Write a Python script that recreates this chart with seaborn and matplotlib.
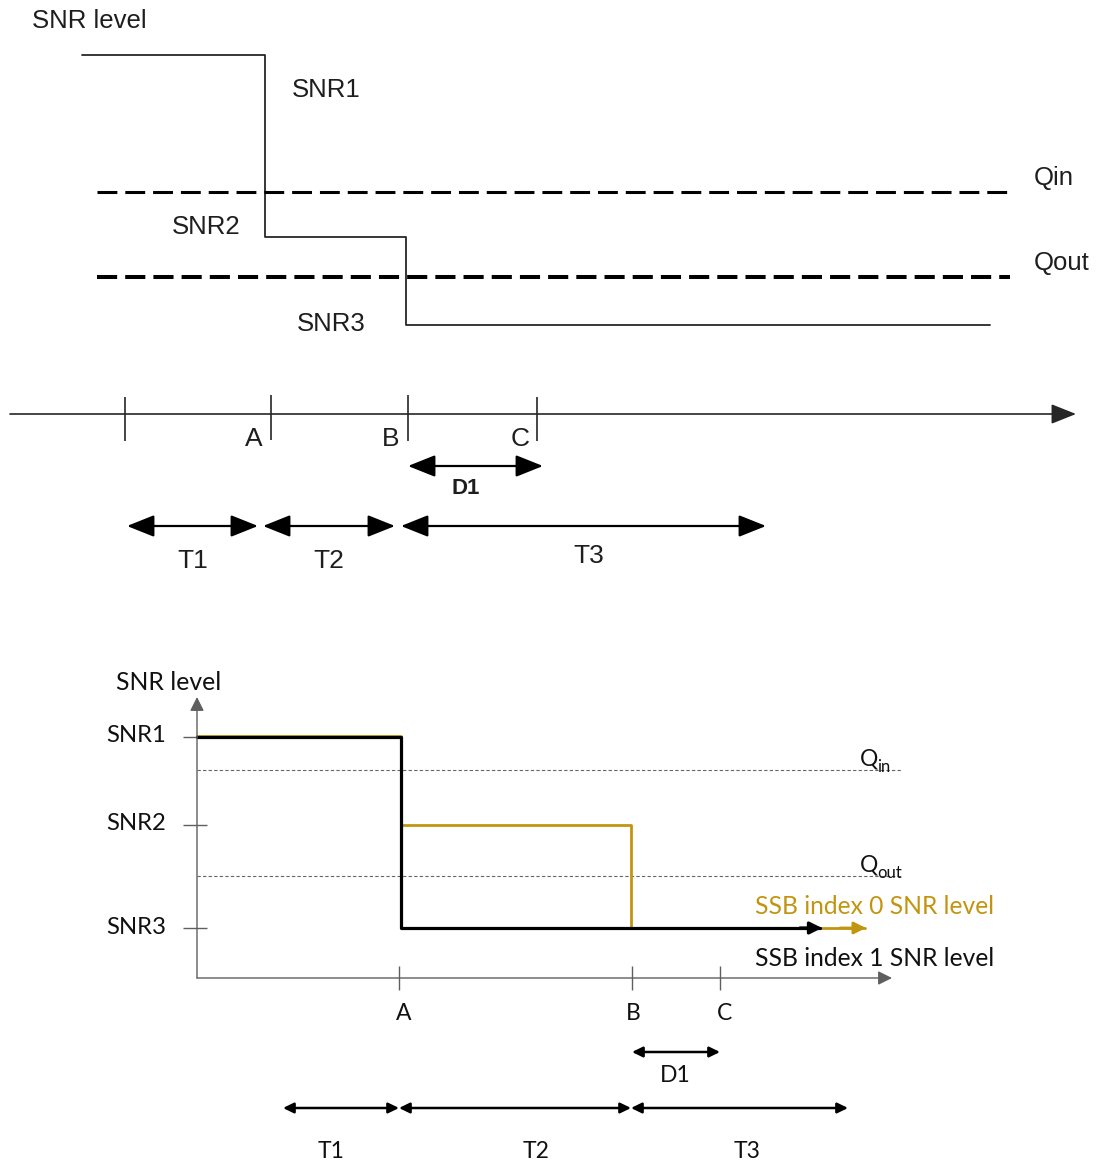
import matplotlib
matplotlib.use("Agg")
import matplotlib.pyplot as plt
import seaborn as sns

sns.set_theme(style="white")

# ---- top diagram (pixel-space values) ----
top_t = [82, 265, 406, 990]
top_snr = [55, 237, 325, 325]
top_snr_names = ["SNR1", "SNR2", "SNR3"]
top_q_y = [192, 277]
top_q_names = ["Qin", "Qout"]
top_tick_t = [125, 271, 408, 537]
top_tick_names = ["", "A", "B", "C"]
top_span_names = ["T1", "T2", "T3"]
top_span_start = [127, 263, 401]
top_span_end = [258, 395, 766]
top_d1 = [408, 543]

# ---- bottom diagram ----
bot_t_idx1 = [197, 401, 820]
bot_snr_idx1 = [737, 928, 928]
bot_t_idx0 = [197, 401, 631, 865]
bot_snr_idx0 = [736, 825, 928, 928]
bot_levels = [737, 825, 928]
bot_level_names = ["SNR1", "SNR2", "SNR3"]
bot_q_y = [770, 876]
bot_q_sub = ["in", "out"]
bot_tick_t = [399, 632, 720]
bot_tick_names = ["A", "B", "C"]
bot_span_names = ["T1", "T2", "T3"]
bot_span_start = [283, 399, 631]
bot_span_end = [399, 631, 848]
bot_d1 = [632, 720]

GOLD = "#C29511"
TOPC = "#262626"
AXC = "#5f5f5f"
ARIAL = ["Liberation Sans", "DejaVu Sans"]
CALIBRI = ["Lato", "DejaVu Sans"]

fig = plt.figure(figsize=(10.97, 11.64), dpi=100)
ax = fig.add_axes([0, 0, 1, 1])


def darrow(x0, x1, y, lw, hl, hw, ms, color):
    ax.annotate("", xy=(x1, y), xytext=(x0, y),
                arrowprops=dict(arrowstyle=f"<|-|>,head_length={hl},head_width={hw}",
                                lw=lw, color=color, shrinkA=0, shrinkB=0,
                                mutation_scale=ms))


def arrow(x0, x1, y0, y1, lw, hl, hw, ms, color):
    ax.annotate("", xy=(x1, y1), xytext=(x0, y0),
                arrowprops=dict(arrowstyle=f"-|>,head_length={hl},head_width={hw}",
                                lw=lw, color=color, shrinkA=0, shrinkB=0,
                                mutation_scale=ms))


# ---------------- top ----------------
sns.lineplot(x=top_t, y=top_snr, drawstyle="steps-post", sort=False,
             estimator=None, color=TOPC, lw=1.3, ax=ax)
ax.hlines(top_q_y[0], 97, 1010, color="black", lw=2.2,
          linestyles=[(0, (6.5, 2.6))])
ax.hlines(top_q_y[1], 97, 1010, color="black", lw=2.9,
          linestyles=[(0, (5.0, 2.0))])

ax.text(32, 21, "SNR level", family=ARIAL, fontsize=18.5, va="center", ha="left", color="#1e1e1e")
for name, (x, y) in zip(top_snr_names, [(292, 90), (172, 227), (297, 324)]):
    ax.text(x, y, name, family=ARIAL, fontsize=18.5, va="center", ha="left", color="#1e1e1e")
for name, y in zip(top_q_names, [178, 263]):
    ax.text(1034, y, name, family=ARIAL, fontsize=18.5, va="center", ha="left", color="#1e1e1e")

# time axis
arrow(10, 1076, 414, 414, 1.2, 0.7, 0.28, 22, TOPC)
ax.vlines(top_tick_t, [397, 395, 395, 397], [441, 440, 441, 441], color=TOPC, lw=1.2)
for name, x in zip(top_tick_names, top_tick_t):
    if name:
        ax.text(x - 17, 439, name, family=ARIAL, fontsize=19, va="center", ha="center", color="#1e1e1e")

darrow(top_d1[0], top_d1[1], 466, 1.6, 0.7, 0.28, 24, "black")
ax.text(sum(top_d1) / 2 - 10, 489, "D1", family=ARIAL, fontsize=16, fontweight="bold",
        va="center", ha="center", color="#1e1e1e")
for name, x0, x1, ly in zip(top_span_names, top_span_start, top_span_end, [561, 561, 556]):
    darrow(x0, x1, 526, 1.6, 0.7, 0.28, 24, "black")
    cx = (x0 + x1) / 2 if name != "T3" else 589
    ax.text(cx, ly, name, family=ARIAL, fontsize=19, va="center", ha="center", color="#1e1e1e")

# ---------------- bottom ----------------
ax.text(116, 682, "SNR level", family=CALIBRI, fontsize=17.8, va="center", ha="left", color="#111")
# axes
arrow(197, 197, 978, 697, 1.0, 0.6, 0.3, 14, AXC)
arrow(197, 892, 978, 978, 1.0, 0.6, 0.3, 14, AXC)
for lev, name, x1 in zip(bot_levels, bot_level_names, [197, 207, 207]):
    ax.hlines(lev, 183, x1, color=AXC, lw=1.0)
    ax.text(166, lev - 1, name, family=CALIBRI, fontsize=17.2, va="center", ha="right", color="#111")
ax.vlines(bot_tick_t, 966, 990, color=AXC, lw=1.0)
for name, x in zip(bot_tick_names, bot_tick_t):
    ax.text(x + 5 if name != "B" else x + 1, 1014, name, family=CALIBRI, fontsize=16.5,
            va="center", ha="center", color="#111")

# thresholds
for y, sub in zip(bot_q_y, bot_q_sub):
    ax.hlines(y, 197, 902, color="#666", lw=0.8, linestyles=[(0, (3, 2))])
    ax.text(860, y - 11, "Q", family=CALIBRI, fontsize=16.5, va="center", ha="left", color="#111")
    ax.text(877, y - 3, sub, family=CALIBRI, fontsize=12, va="center", ha="left", color="#111")

# SNR traces
sns.lineplot(x=bot_t_idx0, y=bot_snr_idx0, drawstyle="steps-post", sort=False,
             estimator=None, color=GOLD, lw=2.0, ax=ax)
arrow(840, 866, 928, 928, 2.0, 0.6, 0.3, 12, GOLD)
sns.lineplot(x=bot_t_idx1, y=bot_snr_idx1, drawstyle="steps-post", sort=False,
             estimator=None, color="black", lw=2.3, ax=ax)
arrow(800, 822, 928, 928, 2.3, 0.6, 0.3, 12, "black")

ax.text(755, 907, "SSB index 0 SNR level", family=CALIBRI, fontsize=17.7, va="center",
        ha="left", color=GOLD)
ax.text(755, 958, "SSB index 1 SNR level", family=CALIBRI, fontsize=17.7, va="center",
        ha="left", color="#111")

darrow(bot_d1[0], bot_d1[1], 1052, 1.8, 0.45, 0.22, 14, "black")
ax.text(675, 1075, "D1", family=CALIBRI, fontsize=16.5, va="center", ha="center", color="#111")
for name, x0, x1, cx in zip(bot_span_names, bot_span_start, bot_span_end, [331, 536, 747]):
    darrow(x0, x1, 1108, 1.8, 0.45, 0.22, 14, "black")
    ax.text(cx, 1152, name, family=CALIBRI, fontsize=16.5, va="center", ha="center", color="#111")

ax.set_xlim(0, 1097)
ax.set_ylim(1164, 0)
ax.axis("off")
fig.savefig("out.png", dpi=100, facecolor="white")
